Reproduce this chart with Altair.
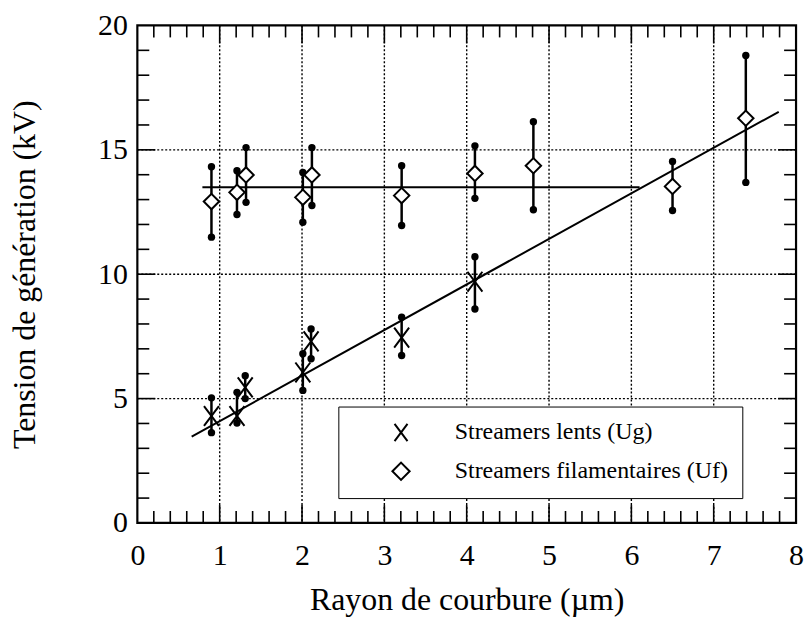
import altair as alt
import pandas as pd

# ---------------- data ----------------
lab_ug = "Streamers lents (Ug)"
lab_uf = "Streamers filamentaires (Uf)"

ug_x = [0.90, 1.21, 1.31, 2.01, 2.11, 3.21, 4.10]
ug_y = [4.30, 4.30, 5.45, 6.05, 7.30, 7.45, 9.70]
ug_lo = [3.63, 4.02, 5.00, 5.33, 6.60, 6.73, 8.60]
ug_hi = [5.03, 5.25, 5.92, 6.80, 7.80, 8.27, 10.70]

uf_x = [0.90, 1.21, 1.32, 2.01, 2.12, 3.21, 4.10, 4.81, 6.50, 7.39]
uf_y = [12.92, 13.29, 13.99, 13.09, 13.99, 13.16, 14.05, 14.36, 13.53, 16.27]
uf_lo = [11.49, 12.40, 12.89, 12.09, 12.76, 11.96, 13.05, 12.59, 12.56, 13.69]
uf_hi = [14.32, 14.16, 15.09, 14.09, 15.09, 14.36, 15.16, 16.13, 14.53, 18.79]

# fitted lines (end points)
fit_ug_x = [0.66, 7.79]
fit_ug_y = [3.47, 16.53]
fit_uf_x = [0.79, 6.10]
fit_uf_y = [13.50, 13.50]

x_labels = [0, 1, 2, 3, 4, 5, 6, 7, 8]
y_labels = [0, 5, 10, 15, 20]
grid_x = [1, 2, 3, 4, 5, 6, 7]
grid_y = [5, 10, 15]
x_minor = [round(i * 0.2, 1) for i in range(1, 40) if i % 5 != 0]
y_minor = [i for i in range(1, 20) if i % 5 != 0]

# ---------------- layout ----------------
W, H = 662, 500
FONT = "Liberation Serif"
MINOR, MAJOR = 12, 18

xs = alt.Scale(domain=[0, 8], nice=False, zero=False)
ys = alt.Scale(domain=[0, 20], nice=False, zero=False)
xaxis = alt.Axis(values=x_labels, title="Rayon de courbure (µm)", grid=False, ticks=False,
                 tickSize=0, domain=False, labelPadding=18, titlePadding=14,
                 labelFlush=False, labelOverlap=False)
yaxis = alt.Axis(values=y_labels, title="Tension de génération (kV)", grid=False, ticks=False,
                 tickSize=0, domain=False, labelPadding=10, titlePadding=56,
                 labelFlush=False, labelOverlap=False)


def X(f):
    return alt.X(f, type="quantitative", scale=xs, axis=xaxis)


def Y(f):
    return alt.Y(f, type="quantitative", scale=ys, axis=yaxis)


layers = []

# dotted grid
layers.append(alt.Chart(pd.DataFrame({"gx": grid_x})).mark_rule(
    color="black", strokeDash=[2, 2], strokeWidth=1.4).encode(x=X("gx")))
layers.append(alt.Chart(pd.DataFrame({"gy": grid_y})).mark_rule(
    color="black", strokeDash=[2, 2], strokeWidth=1.4).encode(y=Y("gy")))

# inward ticks on all four sides
for vals, ln in ((x_minor, MINOR), (grid_x, MAJOR)):
    d = pd.DataFrame({"tx": vals})
    layers.append(alt.Chart(d).mark_rule(color="black", strokeWidth=1.6).encode(
        x=X("tx"), y=alt.value(H), y2=alt.value(H - ln)))
    layers.append(alt.Chart(d).mark_rule(color="black", strokeWidth=1.6).encode(
        x=X("tx"), y=alt.value(0), y2=alt.value(ln)))
for vals, ln in ((y_minor, MINOR), (grid_y, MAJOR)):
    d = pd.DataFrame({"ty": vals})
    layers.append(alt.Chart(d).mark_rule(color="black", strokeWidth=1.6).encode(
        y=Y("ty"), x=alt.value(0), x2=alt.value(ln)))
    layers.append(alt.Chart(d).mark_rule(color="black", strokeWidth=1.6).encode(
        y=Y("ty"), x=alt.value(W), x2=alt.value(W - ln)))

# fitted lines
fit = pd.DataFrame({
    "fx": fit_ug_x + fit_uf_x,
    "fy": fit_ug_y + fit_uf_y,
    "line": ["ug"] * len(fit_ug_x) + ["uf"] * len(fit_uf_x),
})
layers.append(alt.Chart(fit).mark_line(color="black", strokeWidth=2).encode(
    x=X("fx"), y=Y("fy"), detail="line:N"))

# error bars
pts = pd.DataFrame({
    "series": [lab_ug] * len(ug_x) + [lab_uf] * len(uf_x),
    "px": ug_x + uf_x,
    "py": ug_y + uf_y,
    "lo": ug_lo + uf_lo,
    "hi": ug_hi + uf_hi,
})
layers.append(alt.Chart(pts).mark_rule(color="black", strokeWidth=2.5).encode(
    x=X("px"), y=Y("lo"), y2="hi"))
ends = pd.DataFrame({
    "ex": ug_x + uf_x + ug_x + uf_x,
    "ey": ug_lo + uf_lo + ug_hi + uf_hi,
})
layers.append(alt.Chart(ends).mark_circle(color="black", opacity=1, size=55).encode(
    x=X("ex"), y=Y("ey")))

# white fill under the diamonds (hides the error bar inside them)
layers.append(alt.Chart(pts).transform_filter(alt.datum.series == lab_uf).mark_point(
    shape="diamond", filled=True, color="white", opacity=1, size=240
).encode(x=X("px"), y=Y("py")))

# markers with legend
cross_path = "M-0.75,-1L0.75,1M-0.75,1L0.75,-1"
shape_enc = alt.Shape(
    "series:N",
    scale=alt.Scale(domain=[lab_ug, lab_uf], range=[cross_path, "diamond"]),
    legend=alt.Legend(title=None, orient="none", legendX=202, legendY=383,
                      strokeColor="black", fillColor="white", padding=14,
                      symbolOffset=37, labelOffset=42, rowPadding=13,
                      labelFont=FONT, labelFontSize=24, labelColor="black", labelLimit=600,
                      symbolSize=300, symbolStrokeColor="black", symbolOpacity=1,
                      symbolStrokeWidth=2),
)
for lab, sz in ((lab_ug, 400), (lab_uf, 240)):
    layers.append(alt.Chart(pts).transform_filter(alt.datum.series == lab).mark_point(
        filled=False, color="black", strokeWidth=2, opacity=1, size=sz
    ).encode(x=X("px"), y=Y("py"), shape=shape_enc))

chart = alt.layer(*layers).properties(
    width=W, height=H,
    padding={"left": 130, "top": 16, "right": 8, "bottom": 100},
    autosize=alt.AutoSizeParams(type="none"),
    background="white",
).configure_view(stroke="black", strokeWidth=2.2).configure_axis(
    labelFont=FONT, labelFontSize=30, labelColor="black",
    titleFont=FONT, titleFontSize=32, titleFontWeight="normal", titleColor="black",
)

chart.save("out.html", embed_options={"renderer": "svg", "actions": False})
